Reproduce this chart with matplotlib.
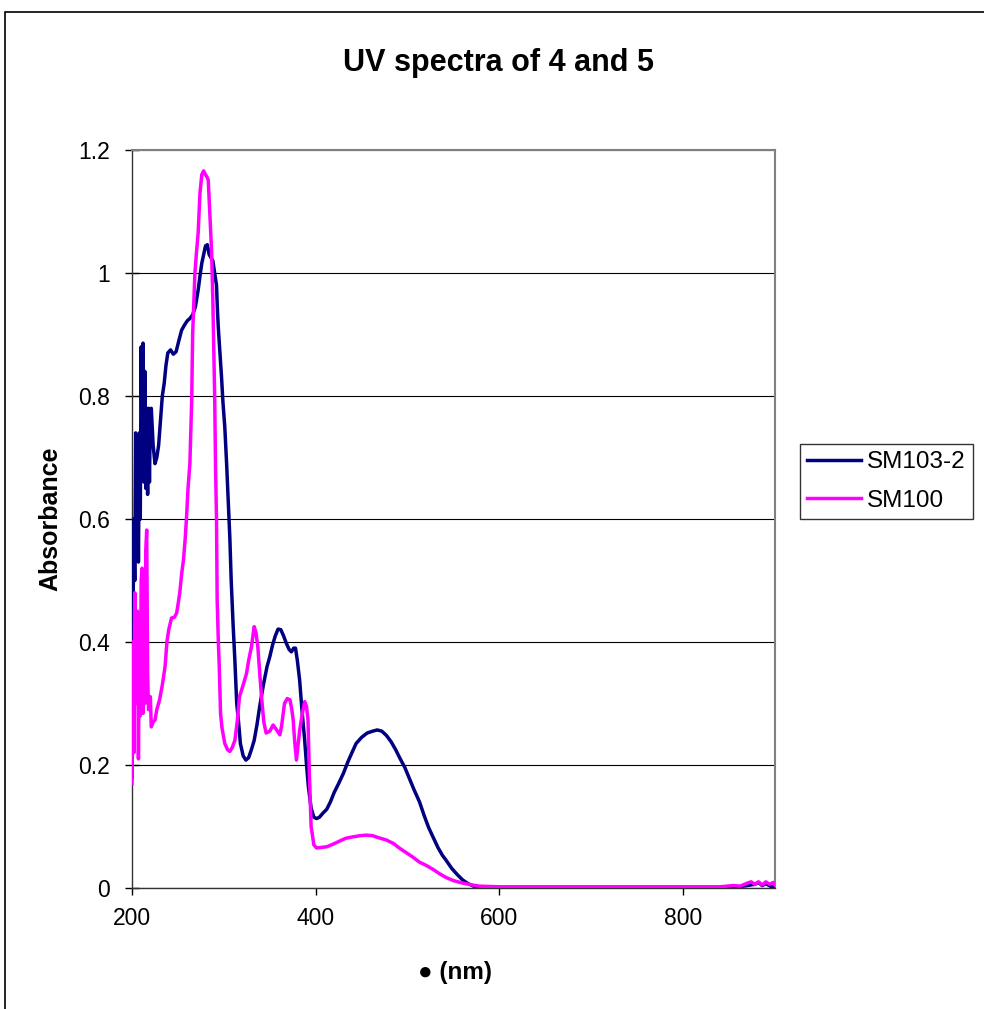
import matplotlib.pyplot as plt
from matplotlib.patches import Rectangle

# SM103-2 (navy)
wl_a = [200, 201, 202, 203, 204, 205, 206, 207, 208, 209, 210, 211, 212, 213, 214,
        215, 216, 217, 218, 219, 220, 221, 223, 225, 227, 229, 231, 233, 235, 237,
        239, 242, 245, 248, 251, 254, 257, 260, 263, 266, 269, 272, 274, 276, 278,
        280, 282, 284, 286, 288, 290, 292, 293, 294, 295.5, 297.5, 299, 301, 303, 305,
        306.5, 308, 310, 312, 314, 316, 318, 321, 324, 327, 330, 333, 336, 339, 343,
        347, 350, 353, 356, 359, 362, 365, 368, 371, 373.5, 376, 378, 380, 382.5, 385,
        388, 390, 392, 395, 398, 401, 404, 408, 412, 416, 420, 425, 430, 435, 440,
        444, 450, 456, 462, 467, 472, 477, 482, 487, 492, 497, 502, 507, 513, 518,
        523, 528, 533, 538, 542, 548, 554, 560, 566, 572, 578, 600, 700, 800, 850,
        860, 870, 878, 882, 886, 890, 895, 900]
abs_a = [0.18, 0.42, 0.60, 0.50, 0.74, 0.55, 0.72, 0.53, 0.74, 0.60, 0.88, 0.70, 0.886, 0.66, 0.84,
         0.65, 0.78, 0.64, 0.78, 0.66, 0.77, 0.78, 0.72, 0.69, 0.70, 0.72, 0.76, 0.80, 0.82, 0.85,
         0.87, 0.875, 0.868, 0.872, 0.89, 0.907, 0.915, 0.922, 0.926, 0.932, 0.945, 0.972, 0.995, 1.016, 1.03,
         1.044, 1.046, 1.03, 1.025, 1.02, 1.0, 0.98, 0.94, 0.91, 0.875, 0.83, 0.79, 0.75, 0.69, 0.62,
         0.57, 0.50, 0.43, 0.37, 0.30, 0.27, 0.235, 0.215, 0.208, 0.212, 0.225, 0.24, 0.265, 0.295, 0.33,
         0.36, 0.376, 0.395, 0.41, 0.421, 0.42, 0.41, 0.398, 0.388, 0.384, 0.39, 0.39, 0.37, 0.338, 0.29,
         0.24, 0.20, 0.165, 0.13, 0.115, 0.113, 0.115, 0.122, 0.128, 0.14, 0.155, 0.17, 0.186, 0.205, 0.222,
         0.235, 0.245, 0.252, 0.255, 0.257, 0.255, 0.248, 0.238, 0.225, 0.21, 0.196, 0.178, 0.16, 0.140, 0.118,
         0.098, 0.082, 0.066, 0.053, 0.045, 0.032, 0.022, 0.013, 0.007, 0.003, 0.001, 0.0, 0.0, 0.0, 0.0,
         0.002, 0.004, 0.006, 0.009, 0.004, 0.007, 0.003, 0.001]

# SM100 (magenta)
wl_b = [200, 201, 202, 203, 204, 205, 206, 207, 208, 209, 210, 211, 212, 213, 214,
        215, 216, 217, 218, 219, 220, 221, 223, 225, 227, 230, 233, 236, 238, 240,
        243, 246, 248.6, 250, 252, 254, 256, 258, 259.4, 261, 263, 264, 265, 266, 268.5,
        270, 272, 274, 276, 278, 280, 282, 283, 284, 286.6, 288, 289, 290, 291, 292,
        292.7, 294, 295, 296.4, 298, 301, 304, 306.5, 309, 312, 314.5, 317, 321, 324.7, 327,
        330, 333, 335, 337, 339, 341, 343.5, 346, 350, 353.6, 357, 361, 363, 366, 369,
        372, 374, 375.5, 377, 379, 381, 382.6, 385, 388, 390, 391.6, 393, 395, 398, 401,
        406, 412, 420, 427, 433, 440, 448, 455, 462, 468, 477, 485, 491, 497, 505,
        513, 520, 528, 535, 542, 550, 560, 570, 578, 600, 700, 800, 840, 855, 862,
        870, 874, 878, 882, 886, 890, 894, 898, 900]
abs_b = [0.17, 0.40, 0.22, 0.48, 0.30, 0.35, 0.45, 0.21, 0.40, 0.28, 0.50, 0.52, 0.284, 0.45, 0.30,
         0.55, 0.582, 0.35, 0.29, 0.30, 0.311, 0.262, 0.27, 0.273, 0.29, 0.306, 0.33, 0.36, 0.40, 0.42,
         0.439, 0.44, 0.447, 0.46, 0.48, 0.51, 0.533, 0.57, 0.604, 0.65, 0.69, 0.74, 0.793, 0.90, 1.0,
         1.03, 1.065, 1.13, 1.16, 1.166, 1.16, 1.155, 1.151, 1.119, 1.037, 0.956, 0.88, 0.80, 0.68, 0.60,
         0.47, 0.40, 0.36, 0.284, 0.26, 0.235, 0.225, 0.222, 0.228, 0.24, 0.27, 0.311, 0.33, 0.349, 0.37,
         0.392, 0.425, 0.415, 0.392, 0.35, 0.311, 0.27, 0.252, 0.255, 0.265, 0.258, 0.249, 0.265, 0.30, 0.308,
         0.306, 0.29, 0.273, 0.24, 0.208, 0.235, 0.257, 0.28, 0.303, 0.295, 0.273, 0.19, 0.10, 0.07, 0.065,
         0.066, 0.067, 0.072, 0.077, 0.081, 0.083, 0.085, 0.086, 0.085, 0.082, 0.078, 0.072, 0.065, 0.059, 0.051,
         0.042, 0.037, 0.03, 0.023, 0.017, 0.012, 0.008, 0.005, 0.003, 0.002, 0.002, 0.002, 0.002, 0.004, 0.003,
         0.008, 0.01, 0.006, 0.01, 0.005, 0.01, 0.006, 0.009, 0.005]

x_ticks = [200, 400, 600, 800]
y_ticks = [0, 0.2, 0.4, 0.6, 0.8, 1, 1.2]
y_labels = ["0", "0.2", "0.4", "0.6", "0.8", "1", "1.2"]

plt.rcParams['font.family'] = ['Liberation Sans', 'DejaVu Sans']

fig = plt.figure(figsize=(9.84, 10.09), dpi=100)
ax = fig.add_axes([132 / 984, 1 - 888 / 1009, (775 - 132) / 984, (888 - 150) / 1009])

# outer chart border (runs off the right and bottom edges)
fig.patches.append(Rectangle((5 / 984, -0.1), 1.2, 1.1 - 12 / 1009, transform=fig.transFigure,
                             fill=False, edgecolor='black', linewidth=1.2))

ax.plot(wl_a, abs_a, color='#000080', linewidth=2.5, label='SM103-2', zorder=3)
ax.plot(wl_b, abs_b, color='#FF00FF', linewidth=2.5, label='SM100', zorder=3)

ax.set_xlim(200, 900)
ax.set_ylim(0, 1.2)
ax.set_xticks(x_ticks)
ax.set_yticks(y_ticks)
ax.set_yticklabels(y_labels)
ax.tick_params(axis='x', labelsize=16.5, direction='out', length=5, width=1, pad=9)
ax.tick_params(axis='y', labelsize=16.5, direction='inout', length=10, width=1, pad=11)
ax.grid(axis='y', color='black', linewidth=0.8)
ax.set_axisbelow(True)

for side in ['top', 'right']:
    ax.spines[side].set_color('#808080')
    ax.spines[side].set_linewidth(1.5)
for side in ['left', 'bottom']:
    ax.spines[side].set_color('#333333')
    ax.spines[side].set_linewidth(1)

fig.text(499 / 984, 1 - 63 / 1009, "UV spectra of 4 and 5", ha='center', va='center',
         fontsize=22, fontweight='bold')
fig.text(455 / 984, 1 - 972 / 1009, "● (nm)", ha='center', va='center',
         fontsize=17.5, fontweight='bold')
fig.text(50 / 984, 1 - 519 / 1009, "Absorbance", ha='center', va='center', rotation=90,
         fontsize=18, fontweight='bold')

leg = ax.legend(loc='center left', bbox_to_anchor=(1.039, 0.551), fontsize=17.5, frameon=True,
                fancybox=False, edgecolor='black', handlelength=2.2, handletextpad=0.25,
                borderpad=0.3, labelspacing=0.68, borderaxespad=0)
leg.get_frame().set_linewidth(1)

fig.savefig('out.png', dpi=100, facecolor='white')
